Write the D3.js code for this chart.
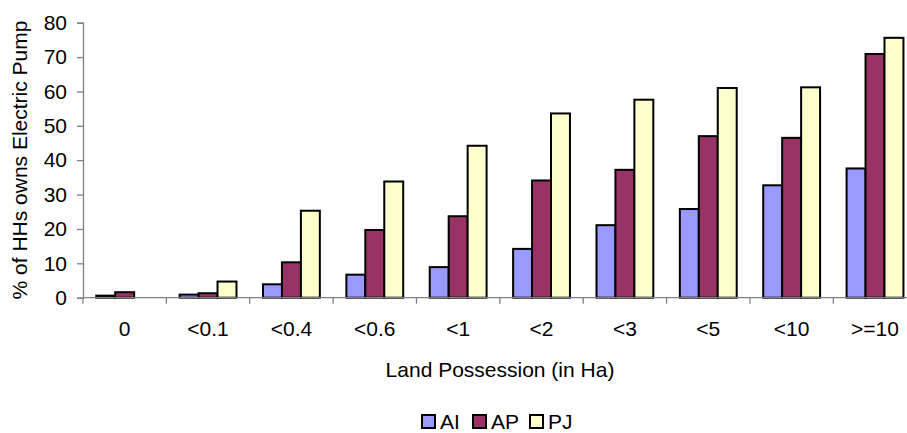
<!DOCTYPE html>
<html>
<head>
<meta charset="utf-8">
<script src="https://cdn.jsdelivr.net/npm/d3@7"></script>
<style>
  html, body { margin: 0; padding: 0; background: #fff; }
  svg { display: block; font-family: "Liberation Sans", Arial, sans-serif; }
</style>
</head>
<body>
<svg id="chart" width="907" height="433"></svg>
<script>
// Land holding classes (hectares)
const categories = ["0", "<0.1", "<0.4", "<0.6", "<1", "<2", "<3", "<5", "<10", ">=10"];
const seriesNames = ["AI", "AP", "PJ"];
// Share of households owning an electric pump (%)
const valuesAI = [0.6, 0.9, 3.9, 6.7, 8.9, 14.2, 21.1, 25.8, 32.7, 37.6];
const valuesAP = [1.6, 1.3, 10.3, 19.7, 23.7, 34.1, 37.2, 47.0, 46.5, 70.9];
const valuesPJ = [0.0, 4.7, 25.3, 33.8, 44.2, 53.6, 57.6, 61.0, 61.2, 75.6];
const yTicks = [0, 10, 20, 30, 40, 50, 60, 70, 80];
const colors = ["#9999FF", "#993366", "#FFFFCC"];

const seriesValues = [valuesAI, valuesAP, valuesPJ];
const rows = categories.map((c, i) => ({
  cat: c,
  vals: seriesNames.map((s, j) => ({ key: s, value: seriesValues[j][i] }))
}));

const svg = d3.select("#chart");
const plotLeft = 83, plotTop = 22.7, plotBottom = 297.7, plotRight = 916.7;
const fontSize = 21;

const x0 = d3.scaleBand().domain(categories).range([plotLeft, plotRight]).paddingInner(0).paddingOuter(0);
const x1 = d3.scaleBand().domain(seriesNames).range([0, x0.bandwidth()]).paddingInner(0).paddingOuter(0.7);
const y = d3.scaleLinear().domain([0, 80]).range([plotBottom, plotTop]);
const color = d3.scaleOrdinal().domain(seriesNames).range(colors);

// Bars
const groups = svg.append("g").selectAll("g").data(rows).join("g")
  .attr("transform", d => `translate(${x0(d.cat)},0)`);
groups.selectAll("rect").data(d => d.vals.filter(v => v.value > 0)).join("rect")
  .attr("x", d => x1(d.key))
  .attr("y", d => y(d.value))
  .attr("width", x1.bandwidth())
  .attr("height", d => y(0) - y(d.value))
  .attr("fill", d => color(d.key))
  .attr("stroke", "#000")
  .attr("stroke-width", 2);

// Y axis
const yAxis = svg.append("g").attr("transform", `translate(${plotLeft},0)`)
  .call(d3.axisLeft(y).tickValues(yTicks).tickSize(6).tickPadding(10).tickFormat(d3.format("d")));
yAxis.select(".domain").attr("stroke", "#808080").attr("stroke-width", 1.3);
yAxis.selectAll(".tick line").attr("stroke", "#808080").attr("stroke-width", 1.3);
yAxis.selectAll("text").attr("font-size", fontSize).attr("fill", "#000")
  .attr("font-family", "Liberation Sans, Arial, sans-serif");

// X axis: ticks at category boundaries, labels centred in each band
const xAxis = svg.append("g").attr("transform", `translate(0,${plotBottom})`);
xAxis.append("line").attr("x1", plotLeft).attr("x2", plotRight).attr("y1", 0).attr("y2", 0)
  .attr("stroke", "#808080").attr("stroke-width", 1.3);
xAxis.selectAll("line.tk").data(categories).join("line").attr("class", "tk")
  .attr("x1", d => x0(d)).attr("x2", d => x0(d)).attr("y1", 0).attr("y2", 6)
  .attr("stroke", "#808080").attr("stroke-width", 1.3);
xAxis.selectAll("text").data(categories).join("text")
  .attr("x", d => x0(d) + x0.bandwidth() / 2)
  .attr("y", 38)
  .attr("text-anchor", "middle")
  .attr("font-size", fontSize)
  .text(d => d);

// Axis titles
svg.append("text").attr("x", 500).attr("y", 377).attr("text-anchor", "middle")
  .attr("font-size", fontSize).text("Land Possession (in Ha)");
svg.append("text").attr("transform", "translate(27,160) rotate(-90)").attr("text-anchor", "middle")
  .attr("font-size", fontSize).text("% of HHs owns Electric Pump");

// Legend
const legendX = [422, 473, 530];
const legend = svg.append("g").selectAll("g").data(seriesNames).join("g")
  .attr("transform", (d, i) => `translate(${legendX[i]},415)`);
legend.append("rect").attr("width", 13).attr("height", 13)
  .attr("fill", d => color(d)).attr("stroke", "#000").attr("stroke-width", 2);
legend.append("text").attr("x", 18).attr("y", 14).attr("font-size", fontSize).text(d => d);
</script>
</body>
</html>
